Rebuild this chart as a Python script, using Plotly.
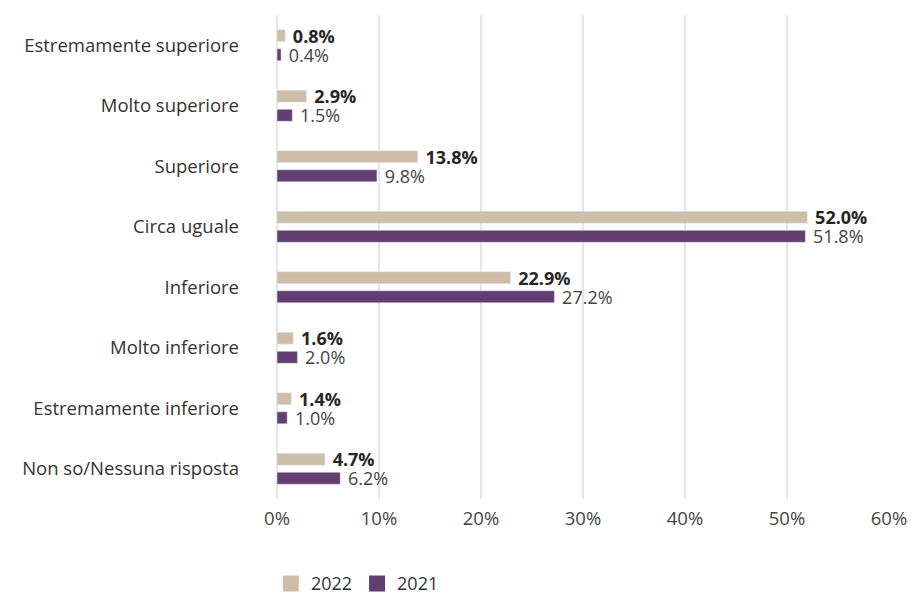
import plotly.graph_objects as go

categories = ["Estremamente superiore", "Molto superiore", "Superiore", "Circa uguale",
              "Inferiore", "Molto inferiore", "Estremamente inferiore", "Non so/Nessuna risposta"]
values_2022 = [0.8, 2.9, 13.8, 52.0, 22.9, 1.6, 1.4, 4.7]
values_2021 = [0.4, 1.5, 9.8, 51.8, 27.2, 2.0, 1.0, 6.2]
x_ticks = [0, 10, 20, 30, 40, 50, 60]
x_tick_labels = ["0%", "10%", "20%", "30%", "40%", "50%", "60%"]
series_names = ["2022", "2021"]
series_colors = ["#cdbda9", "#623e71"]

FONT = "Open Sans"
fig = go.Figure()
fig.add_trace(go.Bar(
    y=categories, x=values_2022, name=series_names[0], orientation="h",
    marker=dict(color=series_colors[0]), showlegend=False,
    texttemplate="\u00a0<b>%{x:.1f}%</b>", textposition="outside", constraintext="none",
    textfont=dict(family=FONT, size=18, color="#262626"), cliponaxis=False,
))
fig.add_trace(go.Bar(
    y=categories, x=values_2021, name=series_names[1], orientation="h",
    marker=dict(color=series_colors[1]), showlegend=False,
    texttemplate="\u00a0%{x:.1f}%", textposition="outside", constraintext="none",
    textfont=dict(family=FONT, size=18, color="#444444"), cliponaxis=False,
))
# legend entries with large square swatches
for name, color in zip(series_names, series_colors):
    fig.add_trace(go.Scatter(
        x=[None], y=[None], mode="markers", name=name,
        marker=dict(symbol="square", size=22, color=color),
        showlegend=True, hoverinfo="skip",
    ))
fig.update_layout(
    width=916, height=594,
    margin=dict(l=277, r=27, t=15, b=95, autoexpand=False),
    paper_bgcolor="white", plot_bgcolor="white",
    barmode="group", bargap=0.37, bargroupgap=0.37,
    font=dict(family=FONT, size=18, color="#333333"),
    showlegend=True,
    legend=dict(orientation="h", x=-0.01, xanchor="left", y=-0.175, yanchor="middle",
                itemsizing="trace", itemwidth=30,
                font=dict(family=FONT, size=18, color="#333333"), traceorder="normal"),
)
fig.update_xaxes(range=[0, 60], tickvals=x_ticks, ticktext=x_tick_labels,
                 showgrid=True, gridcolor="#e6e6e6", gridwidth=2,
                 zeroline=True, zerolinecolor="#e6e6e6", zerolinewidth=2,
                 showline=False, ticks="", ticklabelstandoff=6,
                 tickfont=dict(family=FONT, size=18.5, color="#444444"))
fig.update_yaxes(autorange="reversed", showgrid=False, showline=False, ticks="",
                 ticklabelstandoff=37,
                 tickfont=dict(family=FONT, size=18.5, color="#333333"))
fig.write_html("out.html")
